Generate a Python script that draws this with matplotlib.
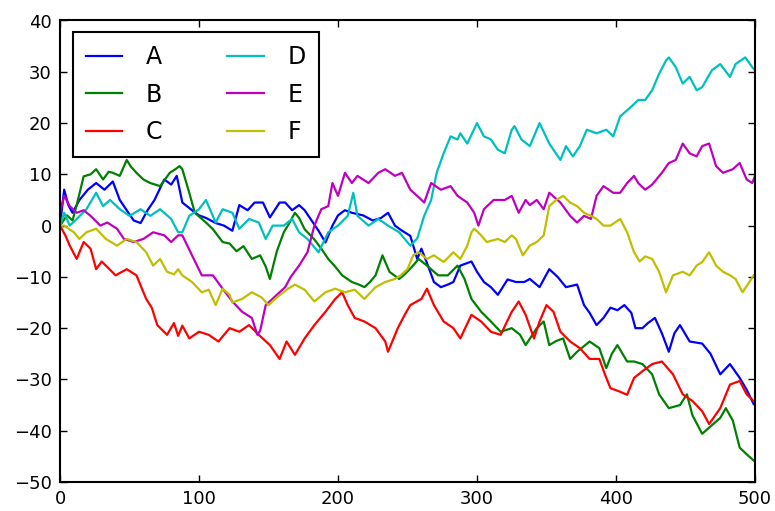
import matplotlib
matplotlib.use("Agg")
import matplotlib.pyplot as plt

labels = ["A", "B", "C", "D", "E", "F"]
colors = ["b", "g", "r", "c", "m", "y"]

a_x = [0,3,6,9,14,20,26,32,38,43,48,53,58,63,68,75,80,84,88,95,100,105,112,118,124,129,135,140,146,151,158,162,167,172,176,181,186,191,196,200,205,210,218,225,231,236,241,245,252,257,260,265,269,274,279,283,288,296,300,305,310,315,322,328,334,338,345,352,358,364,372,377,381,386,391,396,401,406,411,414,419,423,428,433,438,442,446,453,462,468,475,482,489,494,499]
a_y = [0,7,4,2.5,5,7,8.3,7,8.6,5,3,1,0.5,3,5,9,8,9.7,4.5,3,2,1.5,0.5,0,-1,4,3,4.5,4.5,1.6,4.5,4.5,3,4,3,1,-1,-3.3,0,2,3,2.5,2,1,1.5,2.5,0,-0.8,-2,-6.5,-4.5,-8,-11,-12,-11.5,-11,-7.8,-7,-9,-11,-12,-13.5,-10.5,-11,-11,-10.4,-12,-8.5,-10,-12,-11.5,-15.5,-17,-19.4,-18,-16,-16.5,-15.5,-17,-20,-20,-19,-18,-21,-24.6,-21,-19.4,-22.6,-23,-25,-29,-27,-29.7,-32,-34.8]

b_x = [0,5,9,12,17,22,26,31,35,38,43,48,51,55,60,65,72,79,83,86,88,93,97,105,110,117,122,127,132,138,144,148,151,156,161,165,169,172,176,183,188,193,198,203,210,215,219,223,227,232,237,244,248,254,258,264,272,279,286,291,296,303,310,317,325,331,335,343,348,352,357,362,367,372,377,381,388,393,397,401,408,413,419,426,431,438,446,451,455,462,467,475,479,484,489,494,499]
b_y = [0,2,1,4,9.6,10,11,9,10.5,10.3,9.7,12.8,11.5,10.3,9,8.3,7.7,10.3,11,11.6,11,6.4,2.5,0.6,-0.7,-3.2,-3.5,-5,-4,-6.5,-5.8,-8,-10.4,-5,-1.3,0.5,2.5,1.5,-0.7,-2.7,-4.5,-6.5,-8,-9.7,-11,-11.5,-12,-11,-9.7,-5.8,-9,-10.4,-9.5,-7.8,-6.5,-7.8,-9.7,-9.7,-7.8,-10.4,-14.3,-16.8,-18.7,-20.7,-20,-21.3,-23.3,-20,-18.7,-23.3,-22.5,-22,-26,-24.6,-23.5,-22.6,-23.9,-27.8,-25,-23.3,-26.5,-26.5,-27,-29,-32.9,-35.6,-35,-32.9,-37,-40.6,-39.4,-37.5,-35.6,-38,-43.3,-44.6,-45.8]

c_x = [0,4,7,12,17,22,26,30,33,40,48,55,62,66,70,77,82,85,88,93,100,107,114,122,129,136,143,151,158,163,169,176,183,191,198,203,207,212,219,227,234,236,243,248,252,260,264,269,276,283,288,296,303,310,317,325,330,335,341,345,350,355,360,367,374,381,388,392,396,403,408,413,419,426,433,441,448,455,462,467,475,482,489,494,499]
c_y = [0,-2,-3.9,-6.5,-3.2,-4.5,-8.5,-7,-7.8,-9.7,-8.5,-9.7,-14.3,-16,-19.4,-21.3,-19,-21.5,-19.5,-22,-20.7,-21.3,-22.6,-20,-20.7,-19.4,-21.3,-23.3,-26,-22.6,-25.2,-22,-19.4,-16.8,-14.3,-13,-15.5,-18,-18.7,-20,-22.6,-24.6,-20,-17.4,-15.5,-14.3,-12.3,-15.5,-18.7,-20,-22,-17.4,-18.7,-20.7,-21.3,-16.8,-14.8,-17.4,-22,-18.7,-15.5,-16.8,-20.7,-22.6,-23.9,-26,-26,-29,-31.7,-32.4,-33,-29.7,-28.4,-27,-26.5,-29,-32.9,-34.2,-36.2,-38.7,-35.6,-31,-30.3,-32.9,-34.2]

d_x = [0,3,7,12,19,26,31,36,43,50,58,65,72,80,85,88,93,100,105,112,117,124,129,136,143,148,153,161,167,172,178,186,193,200,207,211,214,222,229,236,244,252,257,262,267,271,276,281,286,288,293,300,305,310,315,320,325,327,332,338,345,352,360,364,369,374,379,386,393,398,403,411,416,421,426,431,436,438,443,448,453,458,462,469,475,482,486,493,498,500]
d_y = [0,2.5,0,1.3,3.2,6.4,3.8,5,3.2,1.9,3.2,1.9,3.2,1.3,-1.3,-1.3,1.9,3.2,5,0.6,3.2,2.5,-0.6,1.3,0.6,-2.6,0,0,1.3,-1.3,-2.6,-5.2,-1.3,0,1.9,6.4,1.9,0,1.3,0,-1.3,-3.9,-2.5,1.9,5,10.3,14.1,17.4,16.8,18,16,20,17.4,16.8,14.8,14.1,18.7,19.4,16.8,15.5,20,16,12.8,15.5,13.5,15.5,18.7,18,18.7,17.4,21.3,23.2,24.5,24.5,26.4,29.6,32.2,32.8,30.9,27.7,29,26.4,27,30.3,31.5,29,31.5,32.8,30.9,30.3]

e_x = [0,3,7,12,17,22,29,34,41,46,53,60,67,75,80,85,88,95,102,110,117,124,131,138,142,144,148,156,162,166,172,178,183,188,193,196,200,205,210,214,222,229,234,241,246,252,257,262,267,274,281,286,293,298,301,305,312,320,325,330,335,338,343,348,352,360,367,372,377,382,386,391,398,403,408,413,416,421,426,433,438,443,448,453,458,462,467,472,477,484,489,494,498,500]
e_y = [2.5,5.8,3.8,2.5,3,1.9,0,0.6,-0.6,-2.6,-3.2,-2.6,-1.3,-1.9,-3.2,-1.9,-1.9,-5.8,-9.7,-9.7,-12.3,-14.8,-16.8,-18,-21.3,-20.5,-15.5,-13.5,-12,-10,-7.8,-5.2,0,3.2,3.8,8.3,5.8,10.3,8.3,9.7,8.3,10.3,11,9.7,10.3,7,5.8,4.5,8.3,7,7.7,5.8,4.5,2.5,0,3.2,5,5,5.8,2.5,5,4,5,3.2,6.4,4.5,1.9,0.6,1.9,1.3,5.8,7.7,6.4,6.4,8.3,9.7,8.3,7,8,10.3,12.2,12.8,16,14.1,13.5,15.5,16,11.6,10.3,11,12.2,9,8.3,9.7]

f_x = [0,3,10,14,19,26,33,41,48,55,62,67,72,77,82,85,88,95,102,107,112,117,122,124,131,138,145,150,156,163,169,176,183,191,198,205,212,219,227,234,241,245,250,254,258,264,269,276,283,288,293,296,298,303,307,315,320,325,328,333,338,343,348,352,357,362,367,372,377,382,386,391,396,403,408,413,417,421,426,431,436,441,448,453,458,462,467,472,477,482,486,491,496,499]
f_y = [0,0,-1.3,-2.6,-1.3,-0.6,-2.6,-3.9,-2.6,-3.2,-5.2,-7.8,-6.5,-9,-9.5,-8.5,-9.7,-11,-13,-12.5,-15.5,-12.3,-13.5,-15,-14.3,-13,-14,-15.5,-14,-12.5,-11.5,-12.5,-14.8,-13,-12.3,-13,-12.5,-14.3,-12,-11,-10.4,-9.7,-8.5,-5.8,-5.2,-6.5,-5.8,-7.1,-5.2,-6.5,-3.9,-1.3,-0.6,-1.9,-3.2,-2.6,-3.2,-1.9,-2.6,-5.8,-3.9,-3.2,-1.9,3.8,5,5.8,4.5,3.8,2.5,1.9,1.3,0,0,1.3,-1.3,-5.2,-7,-6,-6.5,-9,-13,-9.7,-9,-9.7,-7.8,-7.1,-5.2,-7.8,-9,-9.7,-10.4,-13,-11,-9.7]

xs = [a_x, b_x, c_x, d_x, e_x, f_x]
ys = [a_y, b_y, c_y, d_y, e_y, f_y]

x_ticks = [0, 100, 200, 300, 400, 500]
y_ticks = [-50, -40, -30, -20, -10, 0, 10, 20, 30, 40]

fig = plt.figure(figsize=(7.75, 5.11), dpi=100, facecolor="white")
ax = fig.add_axes([60/775, 29/511, 695/775, 461.5/511])
for x, y, lab, col in zip(xs, ys, labels, colors):
    ax.plot(x, y, color=col, lw=1.6, label=lab)

ax.set_xlim(0, 500)
ax.set_ylim(-50, 40)
ax.set_xticks(x_ticks)
ax.set_yticks(y_ticks)
ax.tick_params(direction="in", top=True, right=True, length=5, width=1,
               labelsize=13, pad=6)
for s in ax.spines.values():
    s.set_linewidth(1.5)

leg = ax.legend(loc="upper left", bbox_to_anchor=(0.0183, 0.975), borderaxespad=0,
                ncol=2, fontsize=17, fancybox=False, framealpha=1,
                edgecolor="black", handlelength=1.55, columnspacing=2.75,
                labelspacing=0.58, handletextpad=1.0, borderpad=0.55)
leg.get_frame().set_linewidth(1.5)

fig.savefig("out.png", dpi=100, facecolor="white")
